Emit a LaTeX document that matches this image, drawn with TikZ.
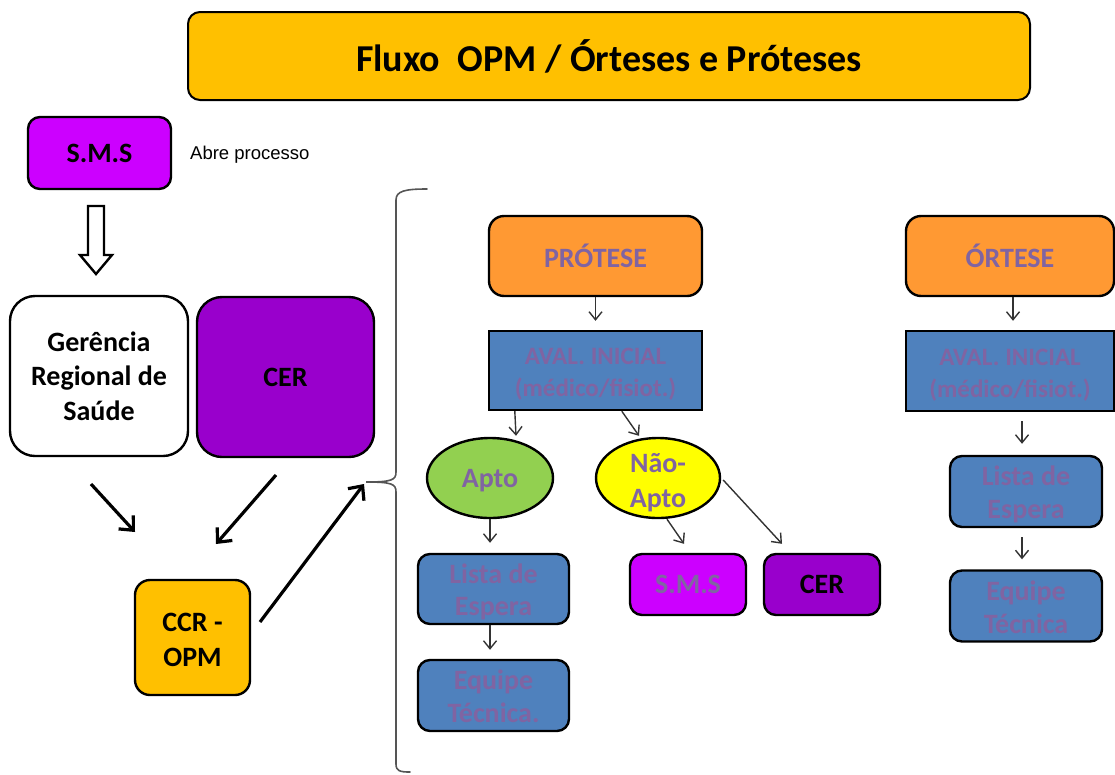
\documentclass[tikz,border=0pt]{standalone}
\usepackage{fontspec}
\setmainfont{Carlito}
\newfontfamily\arialfont{Liberation Sans}
\usetikzlibrary{arrows.meta,shapes.geometric,calc}

\definecolor{gold}{HTML}{FFC000}
\definecolor{magentaP}{HTML}{CC00FF}
\definecolor{violetP}{HTML}{9900CC}
\definecolor{orangeP}{HTML}{FF9933}
\definecolor{blueP}{HTML}{4F81BD}
\definecolor{greenP}{HTML}{92D050}
\definecolor{yellowP}{HTML}{FFFF00}
\definecolor{labelP}{HTML}{8064A2}
\definecolor{braceC}{HTML}{555555}
\definecolor{thinC}{HTML}{333333}

\tikzset{
  base/.style={draw=black, line width=2.4pt, align=center, inner sep=0pt,
    font=\bfseries\fontsize{28}{33}\selectfont},
  rbox/.style={base, rectangle, rounded corners=#1},
  rbox/.default=12pt,
  sqbox/.style={base, rectangle},
  oval/.style={base, ellipse},
  soft/.style={text=labelP},
  txt/.style={inner sep=0pt, align=center, font=\bfseries\fontsize{28}{33}\selectfont},
  thinarrow/.style={draw=thinC, line width=1.4pt,
    -{Straight Barb[length=8pt,width=13pt]}},
  boldarrow/.style={draw=black, line width=3.2pt,
    -{Straight Barb[length=11pt,width=20pt]}},
}

\begin{document}
\begin{tikzpicture}[x=1pt,y=-1pt]
\useasboundingbox (0,0) rectangle (1115,774);

% title banner
\node[rbox=12pt, fill=gold, line width=2pt, minimum width=842pt, minimum height=88pt,
  font=\bfseries\fontsize{38}{44}\selectfont] (title) at (609,56)
  {Fluxo\ \ OPM / Órteses e Próteses};

% left column
\node[rbox=12pt, fill=magentaP, minimum width=143pt, minimum height=72pt] (sms) at (99.5,153) {S.M.S};
\node[anchor=west, inner sep=0pt, font=\arialfont\fontsize{18.5}{22}\selectfont] (abre) at (190,155) {Abre processo};

% hollow block arrow below S.M.S
\draw[line width=2.4pt, fill=white, line join=miter]
  (88,206) -- (104,206) -- (104,255) -- (112,255) -- (96,274) -- (80,255) -- (88,255) -- cycle;

\node[rbox=25pt, fill=white, minimum width=178pt, minimum height=160pt,
  font=\bfseries\fontsize{28}{34.5}\selectfont] (ger) at (99,376)
  {Gerência\\Regional de\\Saúde};
\node[rbox=25pt, fill=violetP, minimum width=177pt, minimum height=160pt] (cer) at (285.5,377) {CER};
\node[rbox=15pt, fill=gold, minimum width=115pt, minimum height=115pt] (ccr) at (192.5,637.5) {};
\node[txt, font=\bfseries\fontsize{28}{35}\selectfont] (ccrt) at ($(ccr.center)+(0,2)$) {CCR -\\OPM};

% connectors of the left column
\coordinate (gerout) at (91,484);
\coordinate (gerin)  at (135,532);
\coordinate (cerout) at (276,475);
\coordinate (cerin)  at (216,544);
\coordinate (ccrout) at (260,622);
\coordinate (bracetip) at (364,484);
\draw[boldarrow] (gerout) -- (gerin);
\draw[boldarrow] (cerout) -- (cerin);
\draw[boldarrow] (ccrout) -- (bracetip);

% curly brace
\draw[braceC, line width=1.6pt, line cap=round]
  (427,189) .. controls (405,189) and (396,191) .. (396,200)
  -- (396,472) .. controls (396,480) and (392,482) .. (366,482)
  .. controls (392,482) and (396,484) .. (396,492)
  -- (396,764) .. controls (396,771) and (400,772) .. (410,772);

% prosthesis branch
\node[rbox=15pt, fill=orangeP, soft, minimum width=213pt, minimum height=80pt] (prot) at (595.5,256) {PRÓTESE};
\node[sqbox, fill=blueP, minimum width=213pt, minimum height=79pt] (aval1) at (595.5,370.5) {};
\node[txt, soft, font=\bfseries\fontsize{25}{32}\selectfont] (aval1t) at ($(aval1.center)+(0,4)$)
  {AVAL. INICIAL\\(médico/fisiot.)};
\node[oval, fill=greenP, minimum width=126pt, minimum height=80pt] (apto) at (490,478) {};
\node[txt, soft] (aptot) at ($(apto.center)+(0,3)$) {Apto};
\node[oval, fill=yellowP, minimum width=124pt, minimum height=80pt] (nao) at (658,478) {};
\node[txt, soft, font=\bfseries\fontsize{28}{35}\selectfont] (naot) at ($(nao.center)+(0,4.5)$) {Não-\\Apto};
\node[rbox=12pt, fill=blueP, minimum width=151pt, minimum height=70pt] (lista1) at (493.5,589) {};
\node[txt, soft, font=\bfseries\fontsize{28}{32}\selectfont] (lista1t) at ($(lista1.center)+(0,3)$) {Lista de\\Espera};
\node[rbox=12pt, fill=blueP, minimum width=151pt, minimum height=71pt] (equipe1) at (493.5,695.5) {};
\node[txt, soft] (equipe1t) at ($(equipe1.center)+(0,1)$) {Equipe\\Técnica.};
\node[rbox=12pt, fill=magentaP, soft, minimum width=116pt, minimum height=61pt] (sms2) at (688,584.5) {S.M.S};
\node[rbox=12pt, fill=violetP, minimum width=116pt, minimum height=61pt] (cer2) at (822,584.5) {CER};

\draw[thinarrow] (prot.south) -- ($(aval1.north)+(0,-9)$);
\draw[thinarrow] ($(aval1.south west)+(27,0)$) -- ($(apto.north)+(26,-1)$);
\draw[thinarrow] ($(aval1.south west)+(134,0)$) -- ($(nao.north)+(-19,-1)$);
\draw[thinarrow] (apto.south) -- ($(lista1.north)+(-3.5,-10)$);
\draw[thinarrow] ($(nao.south)+(9,0)$) -- ($(sms2.north)+(-4,-9)$);
\draw[thinarrow] ($(nao.east)+(2,2)$) -- ($(cer2.north)+(-40,-9)$);
\draw[thinarrow] ($(lista1.south)+(-3.5,0)$) -- ($(equipe1.north)+(-3.5,-9)$);

% orthosis branch
\node[rbox=15pt, fill=orangeP, soft, minimum width=208pt, minimum height=80pt] (ort) at (1010,256) {ÓRTESE};
\node[sqbox, fill=blueP, minimum width=208pt, minimum height=80pt] (aval2) at (1010,371) {};
\node[txt, soft, font=\bfseries\fontsize{25}{32}\selectfont] (aval2t) at ($(aval2.center)+(0,4)$)
  {AVAL. INICIAL\\(médico/fisiot.)};
\node[rbox=12pt, fill=blueP, minimum width=152pt, minimum height=71pt] (lista2) at (1026,491.5) {};
\node[txt, soft] (lista2t) at ($(lista2.center)+(0,3)$) {Lista de\\Espera};
\node[rbox=12pt, fill=blueP, minimum width=152pt, minimum height=71pt] (equipe2) at (1026,606) {};
\node[txt, soft] (equipe2t) at ($(equipe2.center)+(0,1.5)$) {Equipe\\Técnica};

\draw[thinarrow] ($(ort.south)+(3,0)$) -- ($(aval2.north)+(3,-9)$);
\draw[thinarrow] ($(aval2.south)+(12,9)$) -- ($(lista2.north)+(-4,-11)$);
\draw[thinarrow] ($(lista2.south)+(-4,9)$) -- ($(equipe2.north)+(-4,-10)$);
\end{tikzpicture}
\end{document}
